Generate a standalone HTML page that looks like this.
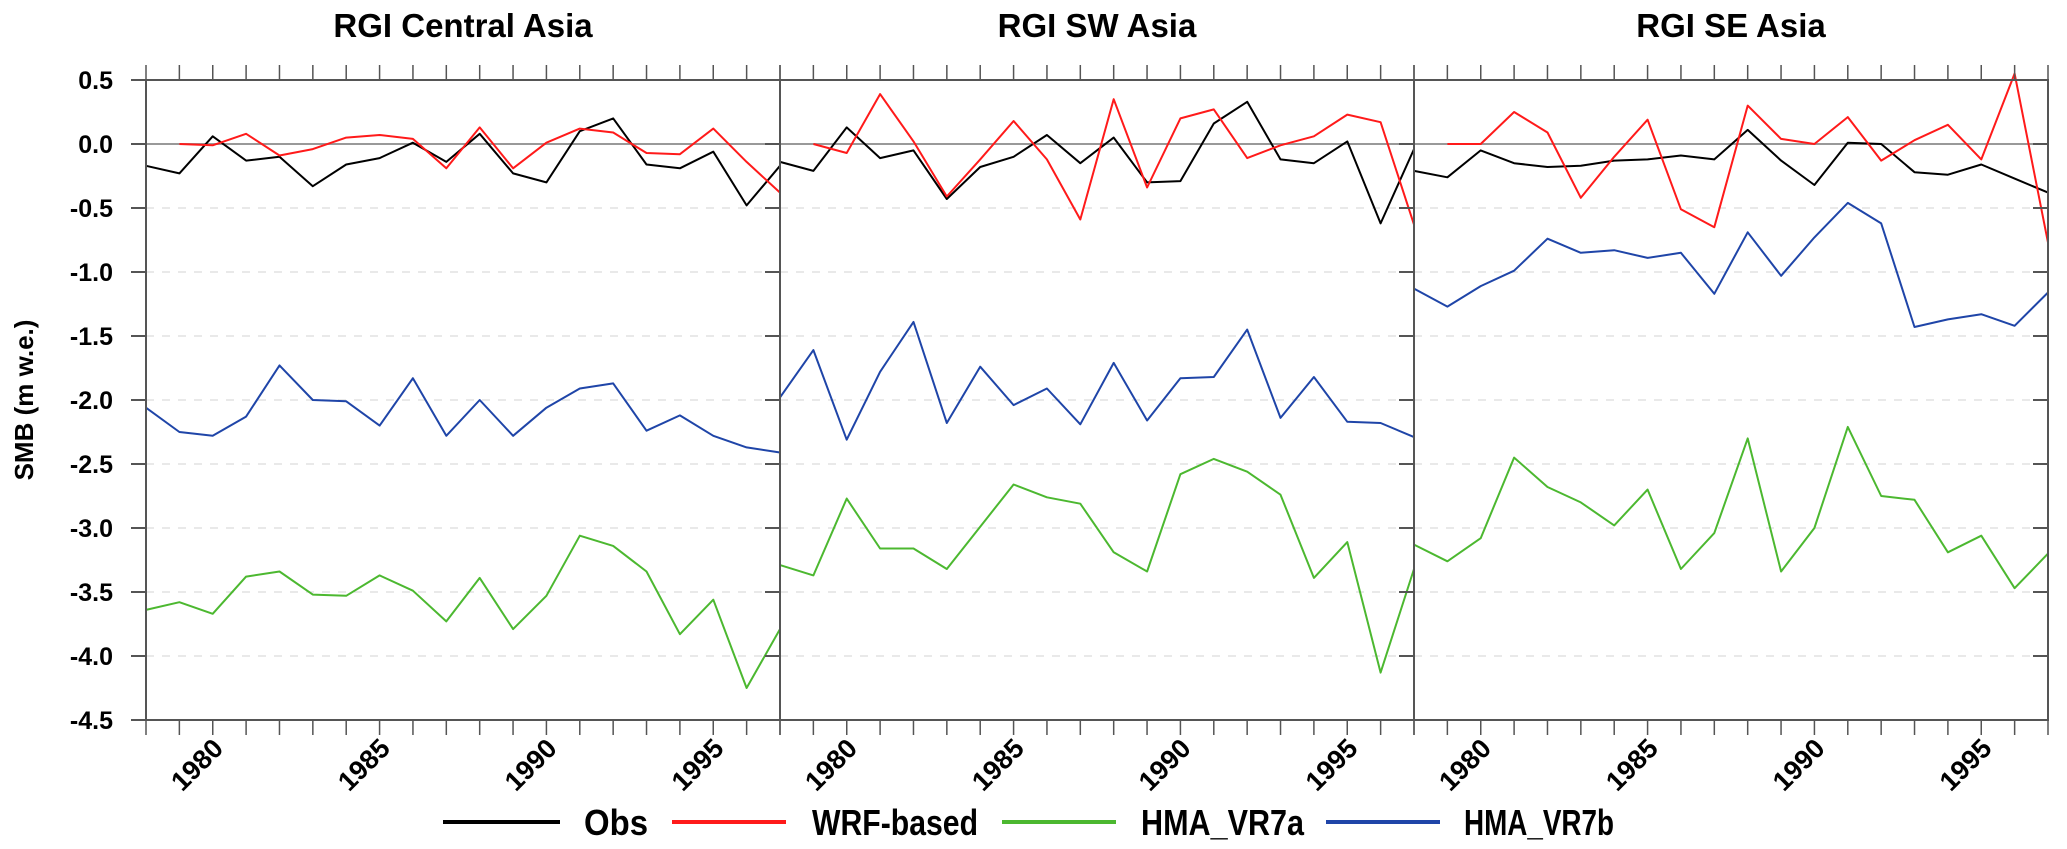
<!DOCTYPE html>
<html><head><meta charset="utf-8"><style>
html,body{margin:0;padding:0;background:#fff;}
svg{display:block;font-family:"Liberation Sans",sans-serif;}
</style></head><body>
<svg id="chart" width="2067" height="849" viewBox="0 0 2067 849" xmlns="http://www.w3.org/2000/svg"></svg>
<script>
const years = [1978,1979,1980,1981,1982,1983,1984,1985,1986,1987,1988,1989,1990,1991,1992,1993,1994,1995,1996,1997];
const wrfYears = years.slice(1);
const panelTitles = ["RGI Central Asia","RGI SW Asia","RGI SE Asia"];
const yTicks = [0.5,0.0,-0.5,-1.0,-1.5,-2.0,-2.5,-3.0,-3.5,-4.0,-4.5];
const yTickLabels = ["0.5","0.0","-0.5","-1.0","-1.5","-2.0","-2.5","-3.0","-3.5","-4.0","-4.5"];
const xLabelYears = [1980,1985,1990,1995];
const seriesNames = ["Obs","WRF-based","HMA_VR7a","HMA_VR7b"];

const obsCentral = [-0.17,-0.23,0.06,-0.13,-0.10,-0.33,-0.16,-0.11,0.01,-0.14,0.08,-0.23,-0.30,0.10,0.20,-0.16,-0.19,-0.06,-0.48,-0.17];
const wrfCentral = [0.00,-0.01,0.08,-0.09,-0.04,0.05,0.07,0.04,-0.19,0.13,-0.19,0.01,0.12,0.09,-0.07,-0.08,0.12,-0.14,-0.38];
const vr7aCentral = [-3.64,-3.58,-3.67,-3.38,-3.34,-3.52,-3.53,-3.37,-3.49,-3.73,-3.39,-3.79,-3.53,-3.06,-3.14,-3.34,-3.83,-3.56,-4.25,-3.79];
const vr7bCentral = [-2.06,-2.25,-2.28,-2.13,-1.73,-2.00,-2.01,-2.20,-1.83,-2.28,-2.00,-2.28,-2.06,-1.91,-1.87,-2.24,-2.12,-2.28,-2.37,-2.41];

const obsSW = [-0.14,-0.21,0.13,-0.11,-0.05,-0.43,-0.18,-0.10,0.07,-0.15,0.05,-0.30,-0.29,0.16,0.33,-0.12,-0.15,0.02,-0.62,-0.04];
const wrfSW = [0.00,-0.07,0.39,0.02,-0.41,-0.12,0.18,-0.12,-0.59,0.35,-0.34,0.20,0.27,-0.11,-0.01,0.06,0.23,0.17,-0.63];
const vr7aSW = [-3.29,-3.37,-2.77,-3.16,-3.16,-3.32,-2.99,-2.66,-2.76,-2.81,-3.19,-3.34,-2.58,-2.46,-2.56,-2.74,-3.39,-3.11,-4.13,-3.32];
const vr7bSW = [-1.98,-1.61,-2.31,-1.78,-1.39,-2.18,-1.74,-2.04,-1.91,-2.19,-1.71,-2.16,-1.83,-1.82,-1.45,-2.14,-1.82,-2.17,-2.18,-2.29];

const obsSE = [-0.21,-0.26,-0.05,-0.15,-0.18,-0.17,-0.13,-0.12,-0.09,-0.12,0.11,-0.13,-0.32,0.01,0.00,-0.22,-0.24,-0.16,-0.27,-0.38];
const wrfSE = [0.00,0.00,0.25,0.09,-0.42,-0.10,0.19,-0.51,-0.65,0.30,0.04,0.00,0.21,-0.13,0.03,0.15,-0.12,0.55,-0.77];
const vr7aSE = [-3.13,-3.26,-3.08,-2.45,-2.68,-2.80,-2.98,-2.70,-3.32,-3.04,-2.30,-3.34,-3.00,-2.21,-2.75,-2.78,-3.19,-3.06,-3.47,-3.20];
const vr7bSE = [-1.13,-1.27,-1.11,-0.99,-0.74,-0.85,-0.83,-0.89,-0.85,-1.17,-0.69,-1.03,-0.73,-0.46,-0.62,-1.43,-1.37,-1.33,-1.42,-1.16];

const panels = [
  {obs:obsCentral,wrf:wrfCentral,a:vr7aCentral,b:vr7bCentral},
  {obs:obsSW,wrf:wrfSW,a:vr7aSW,b:vr7bSW},
  {obs:obsSE,wrf:wrfSE,a:vr7aSE,b:vr7bSE}
];
const colors = {obs:"#000000",wrf:"#ff1a1a",a:"#4cb830",b:"#1f45a8"};

const NS = "http://www.w3.org/2000/svg";
const svg = document.getElementById("chart");
const TOP=80, BOT=720, VMAX=0.5, VMIN=-4.5;
const P0=146, PW=634;
function yScale(v){return TOP+(VMAX-v)/(VMAX-VMIN)*(BOT-TOP);}
function xScale(p,yr){return P0+p*PW+(yr-years[0])/(years[years.length-1]-years[0])*PW;}
function mk(tag,attrs,parent){const e=document.createElementNS(NS,tag);for(const k in attrs)e.setAttribute(k,attrs[k]);(parent||svg).appendChild(e);return e;}

panels.forEach((pd,p)=>{
  const g=mk("g",{});
  
  
  const L=P0+p*PW, R=L+PW;
  yTicks.forEach(v=>{
    if(v===0.5||v===-4.5)return;
    const gl=mk("line",{x1:L,x2:R,y1:yScale(v),y2:yScale(v),stroke:v===0?"#999":"#e2e2e2","stroke-width":v===0?2:1.5,"stroke-dasharray":v===0?"":"8,8"},g);
    
    
  });
  const t=mk("text",{x:(L+R)/2,y:37,"text-anchor":"middle","font-size":33,"font-weight":"bold",fill:"#000"},g);
  t.textContent=panelTitles[p];
  
  
  [["b",years],["a",years],["obs",years],["wrf",wrfYears]].forEach(([k,xs])=>{
    const vals=pd[k];
    const pts=vals.map((v,i)=>xScale(p,xs[i]).toFixed(1)+","+yScale(v).toFixed(1)).join(" ");
    const pl=mk("polyline",{points:pts,fill:"none",stroke:colors[k],"stroke-width":2,"stroke-linejoin":"round"},g);
    
    
  });
  const fr=mk("rect",{x:L,y:TOP,width:PW,height:BOT-TOP,fill:"none",stroke:"#555","stroke-width":2},g);
  
  
  yTicks.forEach(v=>{
    const y=yScale(v);
    mk("line",{x1:L-15,x2:L,y1:y,y2:y,stroke:"#555","stroke-width":2},g);
    mk("line",{x1:R-15,x2:R,y1:y,y2:y,stroke:"#555","stroke-width":2},g);
  });
  years.forEach(yr=>{
    const x=xScale(p,yr);
    mk("line",{x1:x,x2:x,y1:TOP-15,y2:TOP,stroke:"#555","stroke-width":1.5},g);
    mk("line",{x1:x,x2:x,y1:BOT,y2:BOT+15,stroke:"#555","stroke-width":1.5},g);
  });
  xLabelYears.forEach(yr=>{
    const x=xScale(p,yr);
    const ax=x+12, ay=BOT+30;
    const tl=mk("text",{x:ax,y:ay,"text-anchor":"end","font-size":27,"font-weight":"bold",transform:`rotate(-45 ${ax} ${ay})`},g);
    tl.textContent=yr;
    
    
  });
});
yTicks.forEach((v,i)=>{
  const tl=mk("text",{x:113,y:yScale(v)+9,"text-anchor":"end","font-size":25,"font-weight":"bold"});
  tl.textContent=yTickLabels[i];
  
  
});
const yt=mk("text",{x:0,y:0,"text-anchor":"middle","font-size":26,"font-weight":"bold",transform:"translate(33,400) rotate(-90)"});
yt.textContent="SMB (m w.e.)";


const legX=[[443,560,584],[672,786,812],[1002,1116,1141],[1326,1440,1464]];
const legKeys=["obs","wrf","a","b"];
legKeys.forEach((k,i)=>{
  const lg=mk("g",{});
  
  
  mk("line",{x1:legX[i][0],x2:legX[i][1],y1:822,y2:822,stroke:colors[k],"stroke-width":4},lg);
  const lt=mk("text",{x:legX[i][2],y:835,"font-size":36,"font-weight":"bold",textLength:(i===0?64:i===1?166:i===2?163:150),lengthAdjust:"spacingAndGlyphs"},lg);
  lt.textContent=seriesNames[i];
});
</script>
</body></html>
